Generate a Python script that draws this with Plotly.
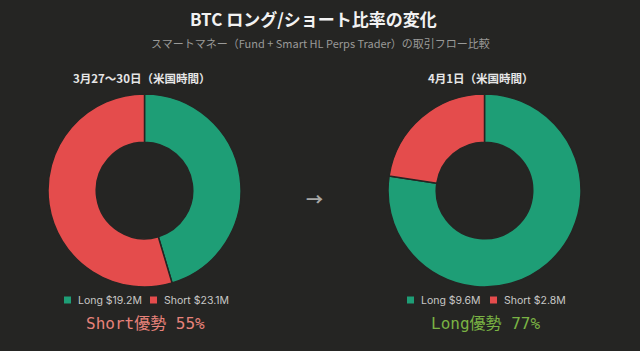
import plotly.graph_objects as go

labels = ["Long", "Short"]
period_before = "3月27〜30日（米国時間）"
period_after = "4月1日（米国時間）"
values_before = [19.2, 23.1]
values_after = [9.6, 2.8]
verdict_before = "Short優勢 55%"
verdict_after = "Long優勢 77%"

BG = "#252523"
GREEN = "#1e9e76"
RED = "#e44c4c"
W, H = 640, 351

def px_x(x):
    return x / W

def px_y(y):
    return 1 - y / H

fig = go.Figure()
for vals, (x0, x1) in [(values_before, (48, 241)), (values_after, (388, 581))]:
    fig.add_trace(go.Pie(
        labels=labels, values=vals, hole=0.5, sort=False, direction="clockwise",
        rotation=0, marker=dict(colors=[GREEN, RED], line=dict(color=BG, width=1.5)),
        textinfo="none", hoverinfo="label+value+percent", showlegend=False,
        domain=dict(x=[px_x(x0), px_x(x1)], y=[px_y(287), px_y(94)]),
    ))

ann = []
def text(x, y, s, size, color, family="Noto Sans CJK JP, Inter, sans-serif", anchor="center"):
    ann.append(dict(x=px_x(x), y=px_y(y), xref="paper", yref="paper", text=s, showarrow=False,
                    xanchor=anchor, yanchor="middle", font=dict(size=size, color=color, family=family)))

text(313, 18, "<b>BTC ロング/ショート比率の変化</b>", 17, "#f2f2f2")
text(320, 43, "スマートマネー（Fund + Smart HL Perps Trader）の取引フロー比較", 11, "#9a9a98")
text(141, 78, "<b>" + period_before + "</b>", 11.5, "#e6e6e6")
text(481, 78, "<b>" + period_after + "</b>", 11.5, "#e6e6e6")
text(314, 199, "<b>→</b>", 17, "#a8a8a6")

mono = "DejaVu Sans Mono, Noto Sans CJK JP, monospace"
text(145, 323, verdict_before, 16, "#e8827a", family=mono)
text(485, 323, verdict_after, 16, "#7ab344", family=mono)

shapes = []
def legend(items, xs):
    for (name, val, col), x in zip(items, xs):
        shapes.append(dict(type="rect", xref="paper", yref="paper",
                           x0=px_x(x), x1=px_x(x + 7), y0=px_y(303.5), y1=px_y(296.5),
                           fillcolor=col, line=dict(width=0)))
        text(x + 12, 300, f"{name} ${val}M", 10.5, "#c8c8c6", family="Inter, Noto Sans, sans-serif", anchor="left")

legend([("Long", values_before[0], GREEN), ("Short", values_before[1], RED)], [64, 150])
legend([("Long", values_after[0], GREEN), ("Short", values_after[1], RED)], [407, 490])

fig.update_layout(width=W, height=H, margin=dict(l=0, r=0, t=0, b=0),
                  paper_bgcolor=BG, plot_bgcolor=BG, annotations=ann, shapes=shapes)
fig.write_html("out.html")
